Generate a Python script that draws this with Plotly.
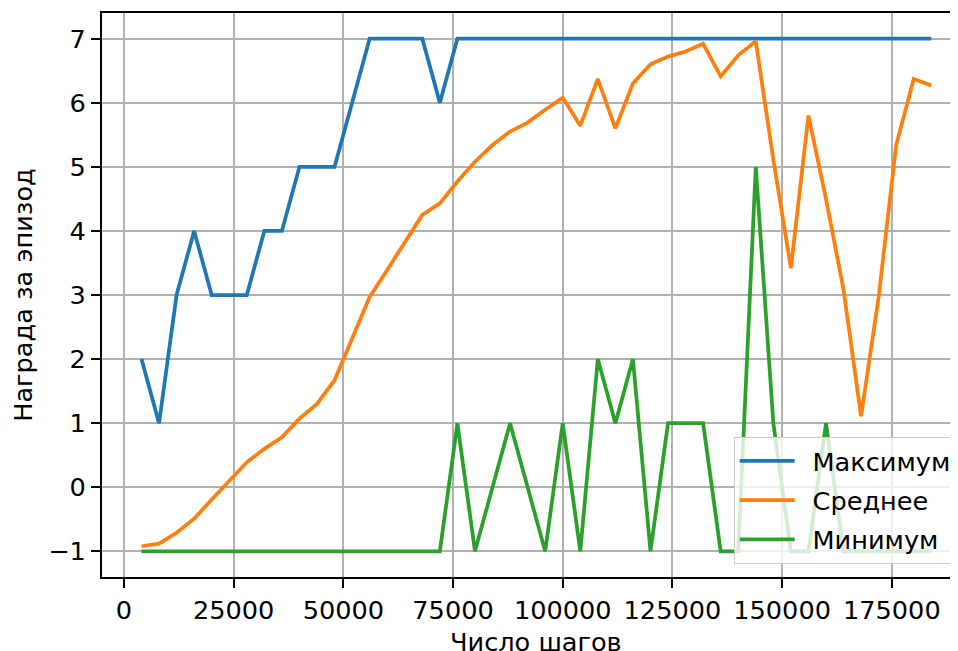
import plotly.graph_objects as go

steps = [4000 * k for k in range(1, 47)]

maximum = [2, 1, 3, 4, 3, 3, 3, 4, 4, 5, 5, 5, 6, 7, 7, 7, 7, 6, 7, 7,
           7, 7, 7, 7, 7, 7, 7, 7, 7, 7, 7, 7, 7, 7, 7, 7, 7, 7, 7, 7,
           7, 7, 7, 7, 7, 7]

mean = [-0.92, -0.88, -0.71, -0.49, -0.19, 0.11, 0.39, 0.60, 0.78, 1.07,
        1.30, 1.67, 2.32, 2.97, 3.39, 3.83, 4.25, 4.43, 4.77, 5.08,
        5.34, 5.55, 5.69, 5.89, 6.08, 5.64, 6.37, 5.60, 6.30, 6.60,
        6.72, 6.80, 6.92, 6.41, 6.74, 6.96, 5.11, 3.42, 5.80, 4.50,
        3.08, 1.11, 2.97, 5.34, 6.37, 6.27]

minimum = [-1, -1, -1, -1, -1, -1, -1, -1, -1, -1, -1, -1, -1, -1, -1, -1, -1, -1, 1, -1,
           0, 1, 0, -1, 1, -1, 2, 1, 2, -1, 1, 1, 1, -1, -1, 5, 1, -1, -1, 1,
           -1, -1, -1, -1, -1, -1]

names = ["Максимум", "Среднее", "Минимум"]
colors = ["#1f77b4", "#ff7f0e", "#2ca02c"]
x_ticks = [0, 25000, 50000, 75000, 100000, 125000, 150000, 175000]
y_ticks = [-1, 0, 1, 2, 3, 4, 5, 6, 7]
x_title = "Число шагов"
y_title = "Награда за эпизод"

FONT = "DejaVu Sans"
FS = 25.6

fig = go.Figure()
for name, vals, col in zip(names, [maximum, mean, minimum], colors):
    fig.add_trace(go.Scatter(x=steps, y=vals, mode="lines",
                             name="\u2002" + name, legendgroup=name,
                             line=dict(color=col, width=3.75)))

axis_common = dict(
    showgrid=True, gridcolor="#b0b0b0", gridwidth=2,
    zeroline=False, showline=True, linecolor="black", linewidth=2,
    ticks="outside", ticklen=9, tickwidth=2, tickcolor="black",
    tickfont=dict(family=FONT, size=FS, color="black"),
    automargin=False,
)

# the page body adds an 8px offset, so the figure is 8px smaller
fig.update_layout(
    width=950, height=643,
    margin=dict(l=94, r=0, t=5, b=74, autoexpand=False),
    paper_bgcolor="white", plot_bgcolor="white",
    font=dict(family=FONT, size=FS, color="black"),
    xaxis=dict(range=[-5000, 190085], tickvals=x_ticks,
               ticktext=[str(v) for v in x_ticks], mirror=True,
               **axis_common),
    yaxis=dict(range=[-1.4, 7.4], tickvals=y_ticks,
               title=dict(text=y_title, font=dict(size=FS), standoff=12),
               **axis_common),
    legend=dict(x=0.9985, y=0.0236, xanchor="right", yanchor="bottom",
                bgcolor="rgba(255,255,255,0.8)", bordercolor="#cccccc", borderwidth=1,
                font=dict(family=FONT, size=FS), itemwidth=55,
                traceorder="grouped", tracegroupgap=3),
    showlegend=True,
    annotations=[dict(text=x_title, xref="paper", yref="paper",
                      x=0.5075, y=-0.1152, xanchor="center", yanchor="middle",
                      showarrow=False, font=dict(family=FONT, size=FS, color="black"))],
)

fig.write_html("out.html")
